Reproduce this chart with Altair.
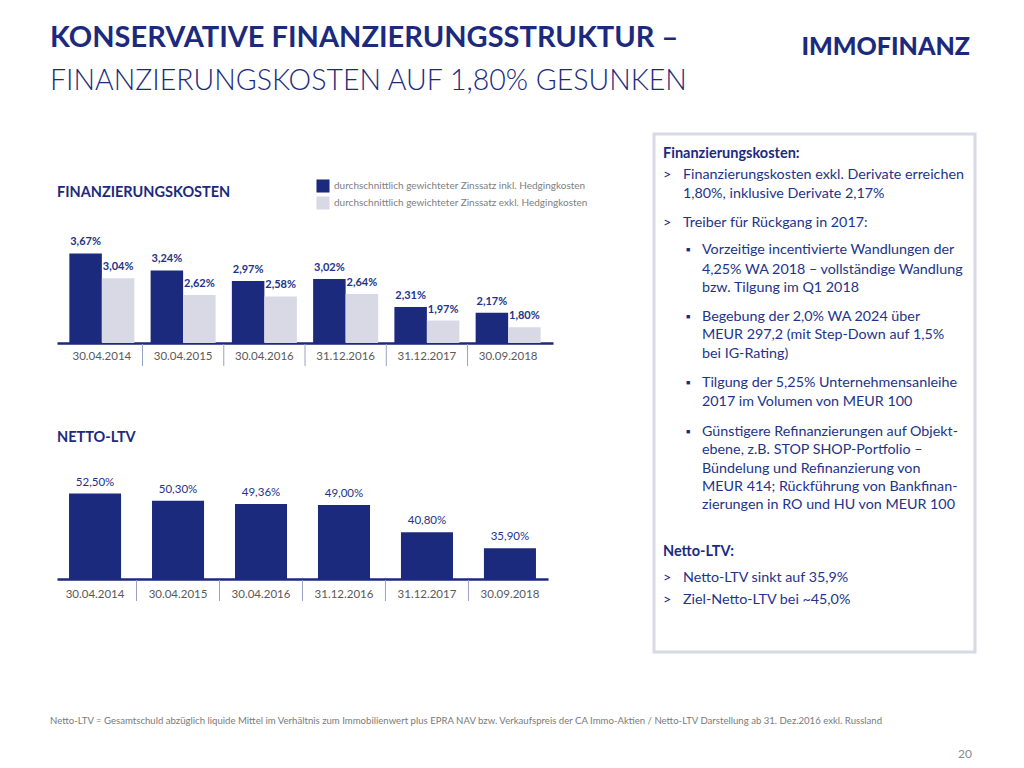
import altair as alt
import pandas as pd

# ---------------- data ----------------
dates = ["30.04.2014", "30.04.2015", "30.04.2016", "31.12.2016", "31.12.2017", "30.09.2018"]
series_names = ["durchschnittlich gewichteter Zinssatz inkl. Hedgingkosten",
                "durchschnittlich gewichteter Zinssatz exkl. Hedgingkosten"]
cost_incl = [3.67, 3.24, 2.97, 3.02, 2.31, 2.17]
cost_excl = [3.04, 2.62, 2.58, 2.64, 1.97, 1.80]
ltv = [52.50, 50.30, 49.36, 49.00, 40.80, 35.90]

title1 = "KONSERVATIVE FINANZIERUNGSSTRUKTUR –"
title2 = "FINANZIERUNGSKOSTEN AUF 1,80% GESUNKEN"
logo = "IMMOFINANZ"
chart1_title = "FINANZIERUNGSKOSTEN"
chart2_title = "NETTO-LTV"
footnote = ("Netto-LTV = Gesamtschuld abzüglich liquide Mittel im Verhältnis zum Immobilienwert plus "
            "EPRA NAV bzw. Verkaufspreis der CA Immo-Aktien / Netto-LTV Darstellung ab 31. Dez.2016 exkl. Russland")
page_no = "20"

# text box lines: (kind, text)
box_lines = [
    ("head", "Finanzierungskosten:"),
    ("arrow", "Finanzierungskosten exkl. Derivate erreichen"),
    ("cont1", "1,80%, inklusive Derivate 2,17%"),
    ("arrow", "Treiber für Rückgang in 2017:"),
    ("bullet", "Vorzeitige incentivierte Wandlungen der"),
    ("cont2", "4,25% WA 2018 – vollständige Wandlung"),
    ("cont2", "bzw. Tilgung im Q1 2018"),
    ("bullet", "Begebung der 2,0% WA 2024 über"),
    ("cont2", "MEUR 297,2 (mit Step-Down auf 1,5%"),
    ("cont2", "bei IG-Rating)"),
    ("bullet", "Tilgung der 5,25% Unternehmensanleihe"),
    ("cont2", "2017 im Volumen von MEUR 100"),
    ("bullet", "Günstigere Refinanzierungen auf Objekt-"),
    ("cont2", "ebene, z.B. STOP SHOP-Portfolio –"),
    ("cont2", "Bündelung und Refinanzierung von"),
    ("cont2", "MEUR 414; Rückführung von Bankfinan-"),
    ("cont2", "zierungen in RO und HU von MEUR 100"),
    ("head", "Netto-LTV:"),
    ("arrow", "Netto-LTV sinkt auf 35,9%"),
    ("arrow", "Ziel-Netto-LTV bei ~45,0%"),
]
box_baselines = [24, 45, 64, 93, 120, 140, 158, 187, 205, 224, 253, 272, 302, 320, 339, 357, 375, 422, 448, 470]

# ---------------- style ----------------
FONT = "Lato"
NAVY = "#1c2a7e"
TEXTBLUE = "#23338a"
LIGHT = "#d9d9e6"
GREY = "#595959"
SEP = "#9aa3c6"
BODY = 14.3


def one():
    return pd.DataFrame({"k": [0]})


def txt(text, x, y, size, weight="normal", color=TEXTBLUE, align="left", baseline="alphabetic"):
    return alt.Chart(one()).mark_text(
        text=text, font=FONT, fontSize=size, fontWeight=weight, color=color,
        align=align, baseline=baseline
    ).encode(x=alt.value(x), y=alt.value(y))


def anchor(x, y):
    # invisible, zero-size text used only to fix the layout bounds of a cell
    return alt.Chart(one()).mark_text(text=" ", fontSize=1, opacity=0, baseline="bottom").encode(
        x=alt.value(x), y=alt.value(y))


# ---------------- header ----------------
header = alt.layer(
    txt(title1, 42, 39, 29, "bold", NAVY),
    txt(title2, 42, 82, 28.5, 300, NAVY),
    txt(logo, 962, 47, 25, 900, NAVY, "right"),
).properties(width=1008, height=120)

# ---------------- chart 1 ----------------
df1 = pd.DataFrame({
    "Datum": dates * 2,
    "Serie": [series_names[0]] * 6 + [series_names[1]] * 6,
    "Wert": cost_incl + cost_excl,
})
W1, H1 = 496, 209
sx1 = alt.Scale(paddingInner=0.2, paddingOuter=0.152)
x1 = alt.X("Datum:N", sort=dates, title=None, scale=sx1,
           axis=alt.Axis(domainColor=NAVY, domainWidth=2.5, ticks=False, labelAngle=0,
                         labelFont=FONT, labelFontSize=11.5, labelColor=GREY, labelPadding=7))
y1 = alt.Y("Wert:Q", scale=alt.Scale(domain=[1.4, 6.7], clamp=True, zero=False), axis=None)
xo1 = alt.XOffset("Serie:N", sort=series_names, scale=alt.Scale(paddingInner=0))

bars1 = alt.Chart(df1).mark_bar().encode(
    x=x1, y=y1, xOffset=xo1,
    color=alt.Color("Serie:N", sort=series_names,
                    scale=alt.Scale(domain=series_names, range=[NAVY, LIGHT]),
                    legend=alt.Legend(orient="none", legendX=259, legendY=45, title=None,
                                      symbolType="square", symbolSize=170, symbolStrokeWidth=0,
                                      symbolOpacity=1, labelFont=FONT, labelFontSize=10,
                                      labelColor="#808080", rowPadding=3, labelOffset=4,
                                      labelLimit=400)),
)
labels1 = alt.Chart(df1).transform_calculate(
    lab="replace(format(datum.Wert, '.2f'), '.', ',') + '%'"
).mark_text(font=FONT, fontSize=11, fontWeight="bold", color=TEXTBLUE,
            baseline="alphabetic", dy=-8).encode(x=x1, y=y1, xOffset=xo1, text="lab:N")
seps1 = alt.Chart(pd.DataFrame({"Datum": dates[1:]})).mark_rule(
    color=SEP, strokeWidth=1, xOffset=-8.1
).encode(x=alt.X("Datum:N", sort=dates, bandPosition=0, scale=sx1),
         y=alt.value(H1 + 1), y2=alt.value(H1 + 23))
chart1 = alt.layer(
    bars1, labels1, seps1,
    txt(chart1_title, 0, 63, 14.5, "bold", NAVY),
    anchor(543, 100), anchor(100, H1 + 30),
).properties(width=W1, height=H1)

# ---------------- chart 2 ----------------
df2 = pd.DataFrame({"Datum": dates, "Wert": ltv})
W2, H2 = 491, 158
sx2 = alt.Scale(paddingInner=0.373, paddingOuter=0.145)
x2 = alt.X("Datum:N", sort=dates, title=None, scale=sx2,
           axis=alt.Axis(domainColor=NAVY, domainWidth=2.5, ticks=False, labelAngle=0,
                         labelFont=FONT, labelFontSize=11.5, labelColor=GREY, labelPadding=9))
y2 = alt.Y("Wert:Q", scale=alt.Scale(domain=[26.6, 74.5], clamp=True, zero=False), axis=None)
bars2 = alt.Chart(df2).mark_bar(color=NAVY).encode(x=x2, y=y2)
labels2 = alt.Chart(df2).transform_calculate(
    lab="replace(format(datum.Wert, '.2f'), '.', ',') + '%'"
).mark_text(font=FONT, fontSize=11.5, color=TEXTBLUE, baseline="alphabetic", dy=-8
            ).encode(x=x2, y=y2, text="lab:N")
seps2 = alt.Chart(pd.DataFrame({"Datum": dates[1:]})).mark_rule(
    color=SEP, strokeWidth=1, xOffset=-15.5
).encode(x=alt.X("Datum:N", sort=dates, bandPosition=0, scale=sx2),
         y=alt.value(H2 + 1), y2=alt.value(H2 + 22))
chart2 = alt.layer(
    bars2, labels2, seps2,
    txt(chart2_title, 0, 21, 14.5, "bold", NAVY),
).properties(width=W2, height=H2)

left_col = alt.vconcat(chart1, chart2, spacing=48).resolve_scale(
    x="independent", y="independent", color="independent")

# ---------------- text box ----------------
box_layers = []
for (kind, text), yb in zip(box_lines, box_baselines):
    if kind == "head":
        box_layers.append(txt(text, 9, yb, 14.5, "bold", NAVY))
    elif kind == "arrow":
        box_layers.append(txt(">", 9, yb, BODY, "normal", NAVY))
        box_layers.append(txt(text, 29, yb, BODY))
    elif kind == "cont1":
        box_layers.append(txt(text, 29, yb, BODY))
    elif kind == "bullet":
        box_layers.append(txt("■", 32, yb - 4, 7, "normal", NAVY, "left", "middle"))
        box_layers.append(txt(text, 48, yb, BODY))
    else:
        box_layers.append(txt(text, 48, yb, BODY))

textbox = alt.layer(*box_layers).properties(
    width=321, height=518,
    view=alt.ViewBackground(stroke="#d8d8e6", strokeWidth=3, fill="white"),
)


def spacer(w, h=10):
    return alt.Chart(one()).mark_text(text="").encode(
        x=alt.value(0), y=alt.value(0)).properties(width=w, height=h)


middle = alt.hconcat(spacer(49), left_col, spacer(52), textbox, spacing=0).resolve_scale(
    color="independent")

# ---------------- footer ----------------
footer = alt.layer(
    txt(footnote, 42, 70, 9.6, "normal", "#7a7a7a"),
    txt(page_no, 964, 104, 12, "normal", "#8a8a8a", "right"),
).properties(width=1008, height=106)

chart = alt.vconcat(header, middle, footer, spacing=0).resolve_scale(
    color="independent"
).properties(padding=0).configure_view(strokeWidth=0)

chart.save("out.html", embed_options={"renderer": "svg", "actions": False})
